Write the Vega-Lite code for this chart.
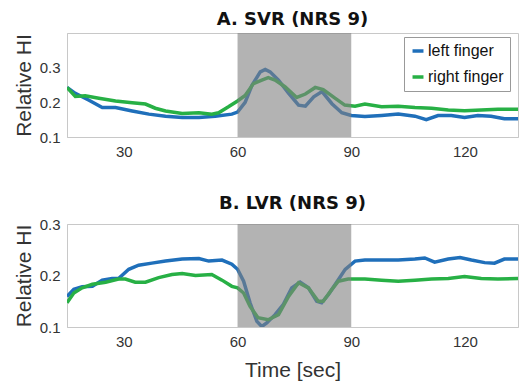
{
  "$schema": "https://vega.github.io/schema/vega-lite/v6.json",
  "padding": {"top": 10, "left": 12, "right": 0, "bottom": 0},
  "background": "white",
  "spacing": 34,
  "config": {
    "font": "Liberation Sans",
    "view": {"stroke": "#c8c8c8"},
    "title": {"font": "DejaVu Sans", "fontSize": 18, "fontWeight": "bold", "color": "#111", "offset": 4},
    "axis": {"labelFontSize": 15, "labelColor": "#333", "titleColor": "#333", "titleFontWeight": "normal", "grid": false, "ticks": false, "domainColor": "#c8c8c8", "labelPadding": 7}
  },
  "datasets": {
    "top": [
      {"s":"left finger","t":15,"v":0.243},{"s":"left finger","t":17.2,"v":0.226},{"s":"left finger","t":20.8,"v":0.206},{"s":"left finger","t":24.3,"v":0.185},{"s":"left finger","t":27.8,"v":0.185},{"s":"left finger","t":32.2,"v":0.175},{"s":"left finger","t":36.6,"v":0.166},{"s":"left finger","t":41,"v":0.16},{"s":"left finger","t":45.4,"v":0.156},{"s":"left finger","t":49.8,"v":0.156},{"s":"left finger","t":54.1,"v":0.16},{"s":"left finger","t":58.5,"v":0.166},{"s":"left finger","t":60,"v":0.172},{"s":"left finger","t":62,"v":0.2},{"s":"left finger","t":63.8,"v":0.249},{"s":"left finger","t":66,"v":0.288},{"s":"left finger","t":67.3,"v":0.295},{"s":"left finger","t":68.6,"v":0.288},{"s":"left finger","t":70.8,"v":0.264},{"s":"left finger","t":73.5,"v":0.226},{"s":"left finger","t":76.1,"v":0.192},{"s":"left finger","t":77.9,"v":0.189},{"s":"left finger","t":80.1,"v":0.216},{"s":"left finger","t":82.3,"v":0.231},{"s":"left finger","t":84.9,"v":0.196},{"s":"left finger","t":87.5,"v":0.17},{"s":"left finger","t":90,"v":0.162},{"s":"left finger","t":93.6,"v":0.159},{"s":"left finger","t":98,"v":0.162},{"s":"left finger","t":102.4,"v":0.166},{"s":"left finger","t":106.8,"v":0.16},{"s":"left finger","t":109.8,"v":0.15},{"s":"left finger","t":112.9,"v":0.162},{"s":"left finger","t":116.4,"v":0.162},{"s":"left finger","t":119.9,"v":0.156},{"s":"left finger","t":123.4,"v":0.162},{"s":"left finger","t":126.9,"v":0.16},{"s":"left finger","t":130.4,"v":0.153},{"s":"left finger","t":134,"v":0.153},
      {"s":"right finger","t":15,"v":0.243},{"s":"right finger","t":17.2,"v":0.217},{"s":"right finger","t":19.8,"v":0.219},{"s":"right finger","t":23.4,"v":0.212},{"s":"right finger","t":27.8,"v":0.204},{"s":"right finger","t":32.2,"v":0.199},{"s":"right finger","t":35.7,"v":0.195},{"s":"right finger","t":38.3,"v":0.183},{"s":"right finger","t":41,"v":0.175},{"s":"right finger","t":45.4,"v":0.168},{"s":"right finger","t":49.8,"v":0.17},{"s":"right finger","t":53.2,"v":0.166},{"s":"right finger","t":55,"v":0.17},{"s":"right finger","t":57.6,"v":0.187},{"s":"right finger","t":60,"v":0.204},{"s":"right finger","t":62,"v":0.22},{"s":"right finger","t":64.2,"v":0.254},{"s":"right finger","t":66.4,"v":0.264},{"s":"right finger","t":68.1,"v":0.271},{"s":"right finger","t":69.9,"v":0.264},{"s":"right finger","t":72.5,"v":0.245},{"s":"right finger","t":75.6,"v":0.214},{"s":"right finger","t":77.9,"v":0.224},{"s":"right finger","t":80.5,"v":0.243},{"s":"right finger","t":82.6,"v":0.237},{"s":"right finger","t":85.7,"v":0.212},{"s":"right finger","t":88.3,"v":0.192},{"s":"right finger","t":91,"v":0.189},{"s":"right finger","t":93.6,"v":0.195},{"s":"right finger","t":98,"v":0.187},{"s":"right finger","t":102.4,"v":0.189},{"s":"right finger","t":106.8,"v":0.185},{"s":"right finger","t":111.2,"v":0.183},{"s":"right finger","t":115.6,"v":0.178},{"s":"right finger","t":119.9,"v":0.176},{"s":"right finger","t":124.3,"v":0.178},{"s":"right finger","t":128.7,"v":0.18},{"s":"right finger","t":134,"v":0.18}
    ],
    "bottom": [
      {"s":"left finger","t":15,"v":0.159},{"s":"left finger","t":16.8,"v":0.173},{"s":"left finger","t":19,"v":0.178},{"s":"left finger","t":21.7,"v":0.179},{"s":"left finger","t":24.3,"v":0.191},{"s":"left finger","t":26.9,"v":0.194},{"s":"left finger","t":28.6,"v":0.194},{"s":"left finger","t":31.3,"v":0.212},{"s":"left finger","t":33.9,"v":0.22},{"s":"left finger","t":37.4,"v":0.224},{"s":"left finger","t":41,"v":0.228},{"s":"left finger","t":45.4,"v":0.232},{"s":"left finger","t":49.8,"v":0.233},{"s":"left finger","t":52.4,"v":0.228},{"s":"left finger","t":55.9,"v":0.23},{"s":"left finger","t":58.5,"v":0.222},{"s":"left finger","t":60,"v":0.212},{"s":"left finger","t":61.6,"v":0.189},{"s":"left finger","t":63.3,"v":0.147},{"s":"left finger","t":65.1,"v":0.111},{"s":"left finger","t":66.4,"v":0.101},{"s":"left finger","t":67.7,"v":0.108},{"s":"left finger","t":69.9,"v":0.124},{"s":"left finger","t":72.1,"v":0.144},{"s":"left finger","t":74.3,"v":0.176},{"s":"left finger","t":76.5,"v":0.187},{"s":"left finger","t":78.7,"v":0.176},{"s":"left finger","t":80.9,"v":0.15},{"s":"left finger","t":82.2,"v":0.147},{"s":"left finger","t":84,"v":0.163},{"s":"left finger","t":85.8,"v":0.183},{"s":"left finger","t":88.4,"v":0.212},{"s":"left finger","t":91,"v":0.228},{"s":"left finger","t":93.6,"v":0.23},{"s":"left finger","t":98,"v":0.23},{"s":"left finger","t":102.4,"v":0.23},{"s":"left finger","t":106.8,"v":0.232},{"s":"left finger","t":109.4,"v":0.234},{"s":"left finger","t":112,"v":0.226},{"s":"left finger","t":115.6,"v":0.232},{"s":"left finger","t":118.7,"v":0.235},{"s":"left finger","t":121.7,"v":0.23},{"s":"left finger","t":125.2,"v":0.225},{"s":"left finger","t":127.8,"v":0.224},{"s":"left finger","t":130.4,"v":0.232},{"s":"left finger","t":134,"v":0.232},
      {"s":"right finger","t":15,"v":0.147},{"s":"right finger","t":16.8,"v":0.166},{"s":"right finger","t":19,"v":0.176},{"s":"right finger","t":21.7,"v":0.183},{"s":"right finger","t":25.2,"v":0.187},{"s":"right finger","t":28.6,"v":0.193},{"s":"right finger","t":30.4,"v":0.193},{"s":"right finger","t":33,"v":0.187},{"s":"right finger","t":35.7,"v":0.187},{"s":"right finger","t":39.2,"v":0.196},{"s":"right finger","t":42.7,"v":0.202},{"s":"right finger","t":45.4,"v":0.204},{"s":"right finger","t":48.9,"v":0.2},{"s":"right finger","t":53.2,"v":0.202},{"s":"right finger","t":55.9,"v":0.191},{"s":"right finger","t":58.5,"v":0.179},{"s":"right finger","t":60,"v":0.176},{"s":"right finger","t":61.6,"v":0.166},{"s":"right finger","t":63.3,"v":0.14},{"s":"right finger","t":65.4,"v":0.118},{"s":"right finger","t":68.1,"v":0.114},{"s":"right finger","t":70.8,"v":0.124},{"s":"right finger","t":73.5,"v":0.16},{"s":"right finger","t":76.1,"v":0.186},{"s":"right finger","t":78.7,"v":0.176},{"s":"right finger","t":81.3,"v":0.15},{"s":"right finger","t":82.6,"v":0.15},{"s":"right finger","t":84.9,"v":0.173},{"s":"right finger","t":86.6,"v":0.189},{"s":"right finger","t":89.2,"v":0.193},{"s":"right finger","t":93.6,"v":0.193},{"s":"right finger","t":98,"v":0.191},{"s":"right finger","t":102.4,"v":0.189},{"s":"right finger","t":106.8,"v":0.191},{"s":"right finger","t":111.2,"v":0.193},{"s":"right finger","t":115.6,"v":0.194},{"s":"right finger","t":119.9,"v":0.198},{"s":"right finger","t":124.3,"v":0.194},{"s":"right finger","t":128.7,"v":0.193},{"s":"right finger","t":134,"v":0.194}
    ],
    "shade": [{"a": 60, "b": 90}]
  },
  "vconcat": [
    {
      "width": 451, "height": 104,
      "title": "A. SVR (NRS 9)",
      "layer": [
        {
          "data": {"name": "top"},
          "mark": {"type": "line", "strokeWidth": 3.5, "clip": true},
          "encoding": {
            "x": {"field": "t", "type": "quantitative", "scale": {"domain": [15, 134], "nice": false, "zero": false}, "axis": {"values": [30, 60, 90, 120], "title": null}},
            "y": {"field": "v", "type": "quantitative", "scale": {"domain": [0.1, 0.4], "nice": false, "zero": false}, "axis": {"values": [0.1, 0.2, 0.3], "format": ".1f", "title": "Relative HI", "titleFontSize": 21, "titlePadding": 5}},
            "color": {"field": "s", "type": "nominal", "scale": {"domain": ["left finger", "right finger"], "range": ["#1f6fba", "#27b045"]},
              "legend": {"title": null, "orient": "none", "legendX": 337, "legendY": 4, "symbolType": "stroke", "symbolSize": 120, "symbolStrokeWidth": 3.5, "labelFontSize": 16, "labelColor": "#111", "rowPadding": 10, "padding": 6, "strokeColor": "#999", "fillColor": "white", "labelOffset": 2}}
          }
        },
        {
          "data": {"name": "shade"},
          "mark": {"type": "rect", "color": "#808080", "opacity": 0.6},
          "encoding": {"x": {"field": "a", "type": "quantitative"}, "x2": {"field": "b"}}
        }
      ]
    },
    {
      "width": 451, "height": 103,
      "title": "B. LVR (NRS 9)",
      "layer": [
        {
          "data": {"name": "bottom"},
          "mark": {"type": "line", "strokeWidth": 3.5, "clip": true},
          "encoding": {
            "x": {"field": "t", "type": "quantitative", "scale": {"domain": [15, 134], "nice": false, "zero": false}, "axis": {"values": [30, 60, 90, 120], "title": "Time [sec]", "titleFontSize": 21, "titlePadding": 10}},
            "y": {"field": "v", "type": "quantitative", "scale": {"domain": [0.1, 0.3], "nice": false, "zero": false}, "axis": {"values": [0.1, 0.2, 0.3], "format": ".1f", "title": "Relative HI", "titleFontSize": 21, "titlePadding": 5}},
            "color": {"field": "s", "type": "nominal", "scale": {"domain": ["left finger", "right finger"], "range": ["#1f6fba", "#27b045"]}, "legend": null}
          }
        },
        {
          "data": {"name": "shade"},
          "mark": {"type": "rect", "color": "#808080", "opacity": 0.6},
          "encoding": {"x": {"field": "a", "type": "quantitative"}, "x2": {"field": "b"}}
        }
      ]
    }
  ],
  "resolve": {"scale": {"color": "shared"}}
}
